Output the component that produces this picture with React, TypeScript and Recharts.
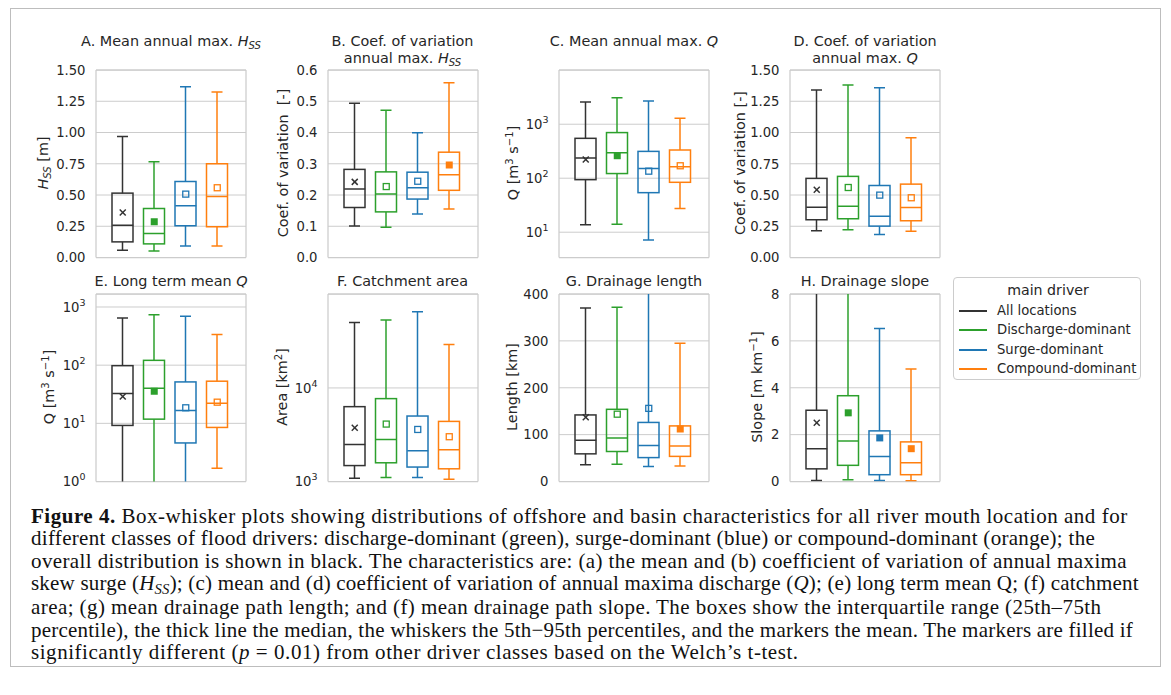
import React from 'react';
import { ComposedChart, Bar, Scatter, XAxis, YAxis, CartesianGrid } from 'recharts';

// ---------------- DATA ----------------
const GROUPS = ['All locations', 'Discharge-dominant', 'Surge-dominant', 'Compound-dominant'];

// each row: [p5, q1, median, q3, p95]
const A_BOX = [
  [0.059, 0.125, 0.259, 0.515, 0.969],
  [0.053, 0.109, 0.192, 0.392, 0.766],
  [0.093, 0.254, 0.414, 0.608, 1.366],
  [0.093, 0.246, 0.488, 0.75, 1.324],
];
const A_MEAN = [0.36, 0.286, 0.507, 0.558];
const A_FILLED = [false, true, false, false];
const A_TICKS = [0, 0.25, 0.5, 0.75, 1.0, 1.25, 1.5];

const B_BOX = [
  [0.101, 0.16, 0.219, 0.282, 0.494],
  [0.097, 0.146, 0.203, 0.274, 0.471],
  [0.139, 0.187, 0.223, 0.273, 0.399],
  [0.155, 0.215, 0.265, 0.337, 0.559],
];
const B_MEAN = [0.242, 0.227, 0.244, 0.296];
const B_FILLED = [false, false, false, true];
const B_TICKS = [0, 0.1, 0.2, 0.3, 0.4, 0.5, 0.6];

const C_BOX = [
  [13.7, 94, 236, 548, 2570],
  [14.1, 122, 296, 700, 3100],
  [7.2, 54, 151, 314, 2685],
  [27.6, 84, 163, 333, 1294],
];
const C_MEAN = [223, 261, 135, 170];
const C_FILLED = [false, true, false, false];
const C_TICKS = [10, 100, 1000];

const D_BOX = [
  [0.214, 0.302, 0.403, 0.633, 1.34],
  [0.222, 0.31, 0.411, 0.649, 1.38],
  [0.184, 0.251, 0.331, 0.576, 1.358],
  [0.211, 0.294, 0.4, 0.587, 0.958],
];
const D_MEAN = [0.542, 0.56, 0.499, 0.478];
const D_FILLED = [false, false, false, false];
const D_TICKS = [0, 0.25, 0.5, 0.75, 1.0, 1.25, 1.5];

const E_BOX = [
  [0.6, 9.2, 32.5, 98, 647],
  [0.6, 11.8, 40, 121, 738],
  [0.6, 4.6, 16.6, 51.5, 692],
  [1.69, 8.5, 22.2, 53, 335],
];
const E_MEAN = [28.9, 35.6, 18.5, 23.1];
const E_FILLED = [false, true, false, false];
const E_TICKS = [1, 10, 100, 1000];

const F_BOX = [
  [1086, 1480, 2490, 6310, 50100],
  [1104, 1585, 2820, 7690, 53100],
  [1104, 1427, 2130, 5010, 65200],
  [1060, 1367, 2180, 4390, 29100],
];
const F_MEAN = [3760, 4110, 3600, 3010];
const F_FILLED = [false, false, false, false];
const F_TICKS = [1000, 10000];

const G_BOX = [
  [36, 59, 88, 142, 370],
  [37, 64, 93, 154, 372],
  [32, 51, 77, 126, 450],
  [33, 53.6, 75.7, 118.6, 295],
];
const G_MEAN = [137, 143.6, 156, 112];
const G_FILLED = [false, false, false, true];
const G_TICKS = [0, 100, 200, 300, 400];

const H_BOX = [
  [0.04, 0.54, 1.4, 3.04, 9.5],
  [0.07, 0.69, 1.73, 3.66, 10.5],
  [0.04, 0.29, 1.07, 2.16, 6.53],
  [0.03, 0.29, 0.8, 1.69, 4.8],
];
const H_MEAN = [2.51, 2.93, 1.86, 1.4];
const H_FILLED = [false, true, true, true];
const H_TICKS = [0, 2, 4, 6, 8];

// ---------------- STYLE ----------------
const COLORS = ['#333333', '#2ca02c', '#1f77b4', '#ff7f0e'];
const TEXT = '#262626';
const GRID = '#cccccc';
const SANS = '"DejaVu Sans", sans-serif';
const BOX_W = 21;
const CAP_W = 11;
const LW = 1.5;
const PLOT_W = 150;
const PLOT_H = 187.5;
const COL_X = [96, 327.5, 559, 790];
const ROW_Y = [69.5, 293.5];

type Row = { name: string; p5: number; q1: number; med: number; q3: number; p95: number; mean: number; filled: boolean };

function buildRows(box: number[][], mean: number[], filled: boolean[]): Row[] {
  return GROUPS.map((name, i) => ({
    name,
    p5: box[i][0],
    q1: box[i][1],
    med: box[i][2],
    q3: box[i][3],
    p95: box[i][4],
    mean: mean[i],
    filled: filled[i],
  }));
}

const groupIdx = (p: any) => Math.max(0, GROUPS.indexOf(p?.name));
const colorOf = (p: any) => COLORS[groupIdx(p)];

const LowWhisker = (props: any) => {
  const { x, y, width, height, payload } = props;
  const cx = x + width / 2;
  const top = Math.min(y, y + height);
  const bottom = Math.max(y, y + height);
  const c = colorOf(payload);
  return (
    <g>
      <line x1={cx} x2={cx} y1={top} y2={bottom} stroke={c} strokeWidth={LW} />
      <line x1={cx - CAP_W / 2} x2={cx + CAP_W / 2} y1={bottom} y2={bottom} stroke={c} strokeWidth={LW} />
    </g>
  );
};

const HighWhisker = (props: any) => {
  const { x, y, width, height, payload } = props;
  const cx = x + width / 2;
  const top = Math.min(y, y + height);
  const bottom = Math.max(y, y + height);
  const c = colorOf(payload);
  return (
    <g>
      <line x1={cx} x2={cx} y1={top} y2={bottom} stroke={c} strokeWidth={LW} />
      <line x1={cx - CAP_W / 2} x2={cx + CAP_W / 2} y1={top} y2={top} stroke={c} strokeWidth={LW} />
    </g>
  );
};

const BoxShape = (props: any) => {
  const { x, y, width, height, payload } = props;
  const top = Math.min(y, y + height);
  return <rect x={x} y={top} width={width} height={Math.abs(height)} fill="none" stroke={colorOf(payload)} strokeWidth={LW} />;
};

const MedianShape = (props: any) => {
  const { cx, cy, payload } = props;
  return <line x1={cx - BOX_W / 2} x2={cx + BOX_W / 2} y1={cy} y2={cy} stroke={colorOf(payload)} strokeWidth={LW} />;
};

const MeanShape = (props: any) => {
  const { cx, cy, payload } = props;
  const c = colorOf(payload);
  if (groupIdx(payload) === 0) {
    const s = 3;
    return (
      <g>
        <line x1={cx - s} x2={cx + s} y1={cy - s} y2={cy + s} stroke={c} strokeWidth={1.5} />
        <line x1={cx - s} x2={cx + s} y1={cy + s} y2={cy - s} stroke={c} strokeWidth={1.5} />
      </g>
    );
  }
  if (payload.filled) {
    return <rect x={cx - 3.5} y={cy - 3.5} width={7} height={7} fill={c} stroke="none" />;
  }
  return <rect x={cx - 3} y={cy - 3} width={6} height={6} fill="none" stroke={c} strokeWidth={1.3} />;
};

const LinTick = (props: any) => {
  const { x, y, payload, decimals } = props;
  return (
    <text x={x} y={y} dy="0.36em" textAnchor="end" fill={TEXT} fontSize={13.2} fontFamily={SANS}>
      {Number(payload.value).toFixed(decimals)}
    </text>
  );
};

const LogTick = (props: any) => {
  const { x, y, payload } = props;
  const e = Math.round(Math.log10(payload.value));
  return (
    <text x={x} y={y} dy="0.36em" textAnchor="end" fill={TEXT} fontSize={13.2} fontFamily={SANS}>
      <tspan>10</tspan>
      <tspan dy={-6} fontSize={9.5}>{e}</tspan>
    </text>
  );
};

const Hss = () => (
  <span>
    <i>H</i>
    <i style={{ fontSize: '0.7em', position: 'relative', top: '0.3em' }}>SS</i>
  </span>
);
const Sup = ({ children }: { children: React.ReactNode }) => (
  <span style={{ fontSize: '0.7em', position: 'relative', top: '-0.45em' }}>{children}</span>
);

type PanelDef = {
  rows: Row[];
  log: boolean;
  domain: [number, number];
  ticks: number[];
  decimals: number;
  col: number;
  row: number;
  title: React.ReactNode[];
  ylabel: React.ReactNode;
  ylabelDx: number;
};

const PANELS: PanelDef[] = [
  { rows: buildRows(A_BOX, A_MEAN, A_FILLED), log: false, domain: [0, 1.5], ticks: A_TICKS, decimals: 2, col: 0, row: 0,
    title: [<>A. Mean annual max. <Hss /></>], ylabel: <><Hss /> [m]</>, ylabelDx: -53.3 },
  { rows: buildRows(B_BOX, B_MEAN, B_FILLED), log: false, domain: [0, 0.6], ticks: B_TICKS, decimals: 1, col: 1, row: 0,
    title: [<>B. Coef. of variation</>, <>annual max. <Hss /></>], ylabel: <>{'Coef. of variation  [-]'}</>, ylabelDx: -44.2 },
  { rows: buildRows(C_BOX, C_MEAN, C_FILLED), log: true, domain: [3.4, 10100], ticks: C_TICKS, decimals: 0, col: 2, row: 0,
    title: [<>C. Mean annual max. <i>Q</i></>], ylabel: <>Q [m<Sup>3</Sup> s<Sup>−1</Sup>]</>, ylabelDx: -45.7 },
  { rows: buildRows(D_BOX, D_MEAN, D_FILLED), log: false, domain: [0, 1.5], ticks: D_TICKS, decimals: 2, col: 3, row: 0,
    title: [<>D. Coef. of variation</>, <>annual max. <i>Q</i></>], ylabel: <>Coef. of variation [-]</>, ylabelDx: -50.5 },
  { rows: buildRows(E_BOX, E_MEAN, E_FILLED), log: true, domain: [1, 1672], ticks: E_TICKS, decimals: 0, col: 0, row: 1,
    title: [<>E. Long term mean <i>Q</i></>], ylabel: <>Q [m<Sup>3</Sup> s<Sup>−1</Sup>]</>, ylabelDx: -47.4 },
  { rows: buildRows(F_BOX, F_MEAN, F_FILLED), log: true, domain: [1000, 101000], ticks: F_TICKS, decimals: 0, col: 1, row: 1,
    title: [<>F. Catchment area</>], ylabel: <>Area [km<Sup>2</Sup>]</>, ylabelDx: -45.2 },
  { rows: buildRows(G_BOX, G_MEAN, G_FILLED), log: false, domain: [0, 400], ticks: G_TICKS, decimals: 0, col: 2, row: 1,
    title: [<>G. Drainage length</>], ylabel: <>Length [km]</>, ylabelDx: -46.7 },
  { rows: buildRows(H_BOX, H_MEAN, H_FILLED), log: false, domain: [0, 8], ticks: H_TICKS, decimals: 0, col: 3, row: 1,
    title: [<>H. Drainage slope</>], ylabel: <>Slope [m km<Sup>−1</Sup>]</>, ylabelDx: -33.3 },
];

const YW = 60;
const MT = 10;

const frameH = (gp: any) => [gp.offset.top, gp.offset.top + gp.offset.height];
const frameV = (gp: any) => [gp.offset.left, gp.offset.left + gp.offset.width];

function Panel({ p }: { p: PanelDef }) {
  const L = COL_X[p.col];
  const T = ROW_Y[p.row];
  const xPad = { left: 11, right: 13 };
  const titleTop = p.row === 0 ? 32.5 : 273.2;
  return (
    <>
      <div style={{ position: 'absolute', left: L - YW, top: T - MT }}>
        <ComposedChart width={YW + PLOT_W + 10} height={MT + PLOT_H + 10} data={p.rows} margin={{ top: MT, right: 10, bottom: 10, left: 0 }}>
          <XAxis xAxisId={0} dataKey="name" type="category" hide padding={xPad} />
          <XAxis xAxisId={1} dataKey="name" type="category" hide padding={xPad} />
          <XAxis xAxisId={2} dataKey="name" type="category" hide padding={xPad} />
          <YAxis
            type="number"
            scale={p.log ? 'log' : 'linear'}
            domain={p.domain}
            allowDataOverflow
            ticks={p.ticks}
            interval={0}
            width={YW}
            axisLine={false}
            tickLine={false}
            tickSize={6}
            tickMargin={4.5}
            tick={(tp: any) => (p.log ? <LogTick {...tp} /> : <LinTick {...tp} decimals={p.decimals} />)}
          />
          <CartesianGrid vertical={false} stroke={GRID} strokeWidth={1} />
          <CartesianGrid
            horizontalCoordinatesGenerator={frameH}
            verticalCoordinatesGenerator={frameV}
            stroke={GRID}
            strokeWidth={1.25}
          />
          <Bar xAxisId={0} dataKey={(d: Row) => [d.p5, d.q1]} barSize={BOX_W} shape={LowWhisker} isAnimationActive={false} />
          <Bar xAxisId={1} dataKey={(d: Row) => [d.q1, d.q3]} barSize={BOX_W} shape={BoxShape} isAnimationActive={false} />
          <Bar xAxisId={2} dataKey={(d: Row) => [d.q3, d.p95]} barSize={BOX_W} shape={HighWhisker} isAnimationActive={false} />
          <Scatter xAxisId={0} dataKey="med" shape={MedianShape} isAnimationActive={false} />
          <Scatter xAxisId={0} dataKey="mean" shape={MeanShape} isAnimationActive={false} />
        </ComposedChart>
      </div>
      <div
        style={{
          position: 'absolute', left: L + PLOT_W / 2 - 130, width: 260, top: titleTop, textAlign: 'center',
          fontFamily: SANS, fontSize: 14.4, lineHeight: '17px', color: TEXT, whiteSpace: 'nowrap',
        }}
      >
        {p.title.map((t, i) => (
          <div key={i}>{t}</div>
        ))}
      </div>
      <div
        style={{
          position: 'absolute', left: L + p.ylabelDx, top: T + PLOT_H / 2,
          transform: 'translate(-50%, -50%) rotate(-90deg)', fontFamily: SANS, fontSize: 14.4, lineHeight: 1,
          color: TEXT, whiteSpace: 'pre',
        }}
      >
        {p.ylabel}
      </div>
    </>
  );
}

function LegendBox() {
  const rowsY = [310, 329.4, 348.8, 368.2];
  return (
    <div
      style={{
        position: 'absolute', left: 953, top: 277, width: 188, height: 103, border: '1px solid #cccccc',
        borderRadius: 4, boxSizing: 'border-box', background: '#fff',
      }}
    >
      <div style={{ position: 'absolute', left: 0, width: 188, top: 4, textAlign: 'center', fontFamily: SANS, fontSize: 14.2, color: TEXT }}>
        main driver
      </div>
      {GROUPS.map((g, i) => (
        <React.Fragment key={g}>
          <div style={{ position: 'absolute', left: 5, top: rowsY[i] - 277 - 1, width: 28, height: 2, background: COLORS[i] }} />
          <div style={{ position: 'absolute', left: 43, top: rowsY[i] - 277 - 9, fontFamily: SANS, fontSize: 13.2, lineHeight: '17px', color: TEXT, whiteSpace: 'nowrap' }}>
            {g}
          </div>
        </React.Fragment>
      ))}
    </div>
  );
}

const subStyle: React.CSSProperties = { fontSize: '0.7em', position: 'relative', top: '0.3em', fontStyle: 'italic' };

const CAPTION_LINES: React.ReactNode[] = [
  <><b>Figure 4.</b> Box-whisker plots showing distributions of offshore and basin characteristics for all river mouth location and for</>,
  <>different classes of flood drivers: discharge-dominant (green), surge-dominant (blue) or compound-dominant (orange); the</>,
  <>overall distribution is shown in black. The characteristics are: (a) the mean and (b) coefficient of variation of annual maxima</>,
  <>skew surge (<i>H</i><span style={subStyle}>SS</span>); (c) mean and (d) coefficient of variation of annual maxima discharge (<i>Q</i>); (e) long term mean Q; (f) catchment</>,
  <>area; (g) mean drainage path length; and (f) mean drainage path slope. The boxes show the interquartile range (25th–75th</>,
  <>percentile), the thick line the median, the whiskers the 5th−95th percentiles, and the markers the mean. The markers are filled if</>,
  <>significantly different (<i>p</i> = 0.01) from other driver classes based on the Welch’s t-test.</>,
];
const CAPTION_SPACING = [0.516, 0.3, 0.39, 0.2, 0.425, 0.225, 0.545];

export default function App() {
  return (
    <div style={{ position: 'absolute', left: 0, top: 0, width: 1171, height: 695, background: '#ffffff', overflow: 'hidden' }}>
      <div style={{ position: 'absolute', left: 10, top: 8, width: 1151, height: 659, border: '1px solid #bdbdbd', boxSizing: 'border-box' }} />
      {PANELS.map((p, i) => (
        <Panel key={i} p={p} />
      ))}
      <LegendBox />
      <div
        style={{
          position: 'absolute', left: 31, top: 505, fontFamily: '"Liberation Serif", serif', fontSize: 21,
          lineHeight: '22.35px', color: '#111',
        }}
      >
        {CAPTION_LINES.map((l, i) => (
          <div key={i} style={{ whiteSpace: 'nowrap', letterSpacing: `${CAPTION_SPACING[i]}px` }}>{l}</div>
        ))}
      </div>
    </div>
  );
}
